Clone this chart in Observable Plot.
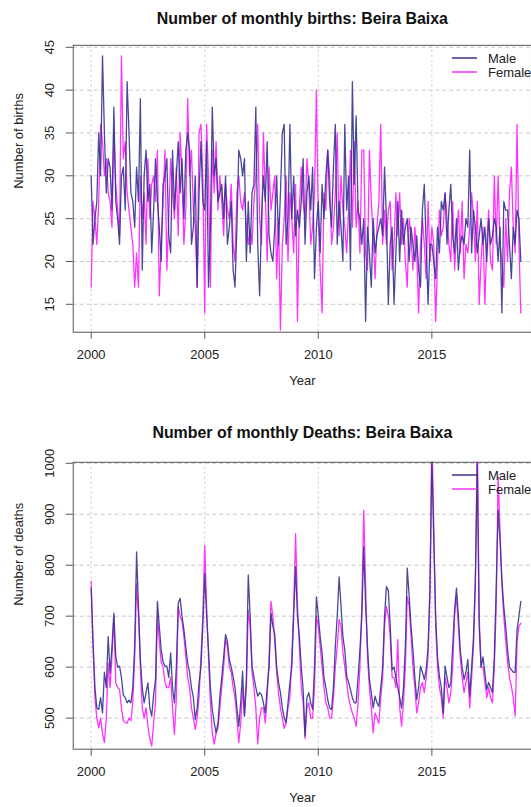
<!DOCTYPE html>
<html><head><meta charset="utf-8">
<script src="https://cdn.jsdelivr.net/npm/d3@7"></script>
<script src="https://cdn.jsdelivr.net/npm/@observablehq/plot@0.6"></script>
<style>
html,body{margin:0;padding:0;background:#fff;overflow:hidden;width:531px;height:807px;}
#wrap{position:relative;width:531px;height:807px;overflow:hidden;font-family:"Liberation Sans",Arial,sans-serif;}
#wrap svg.plot{position:absolute;left:0;}
.legend{position:absolute;left:452px;}
</style></head><body><div id="wrap"></div>
<script>
const startYear = 2000;
const yearTicks = [2000, 2005, 2010, 2015];
const birthTicks = [15, 20, 25, 30, 35, 40, 45];
const deathTicks = [500, 600, 700, 800, 900, 1000];
const seriesNames = ["Male", "Female"];
const seriesColors = ["#34348e", "#ff33ff"];

const birthsMale = [
30,22,25,27,35,30,44,35,28,32,31,26,
38,27,25,22,30,31,26,41,35,28,27,24,
31,27,39,19,30,33,27,29,21,26,32,27,
24,20,29,30,32,23,21,33,26,30,34,28,
32,25,33,35,33,22,24,30,17,28,34,27,
26,34,17,24,38,30,32,27,28,29,25,30,
22,24,27,19,17,24,33,32,30,32,20,27,
21,28,29,38,22,16,25,30,27,34,23,21,
20,24,30,22,28,35,36,22,25,36,25,30,
23,26,24,27,32,22,28,30,26,31,18,24,
27,21,29,25,30,33,27,24,31,36,22,27,
24,20,36,26,30,19,41,29,37,26,25,22,
25,13,24,21,17,25,21,23,24,25,23,31,
25,15,22,24,15,21,27,20,26,22,24,25,
20,24,22,20,23,19,17,26,29,22,15,22,
22,20,18,24,21,27,26,28,22,26,29,23,
21,25,19,22,23,22,25,24,33,21,26,24,
21,23,25,22,24,20,25,22,23,25,24,20,
24,14,27,26,26,22,18,24,22,26,25,20];

const birthsFemale = [
17,27,25,22,27,36,34,30,32,28,27,24,
35,29,26,23,44,32,34,28,26,24,22,17,
21,17,30,25,28,22,32,25,29,30,27,33,
16,22,27,33,19,25,32,28,25,31,23,35,
30,22,26,39,30,33,26,24,17,35,36,30,
14,36,30,17,33,28,34,26,30,27,23,29,
26,25,29,22,20,28,30,27,26,28,24,22,
24,22,27,30,36,25,22,35,28,20,31,26,
28,30,18,25,12,22,25,30,20,28,25,21,
29,13,26,31,27,25,32,29,22,24,28,40,
25,19,14,28,26,33,30,22,24,28,35,23,
30,26,24,21,26,33,24,34,24,27,21,33,
33,21,19,33,27,23,18,24,27,36,22,26,
22,26,27,19,22,28,23,28,22,25,20,17,
25,23,19,24,21,14,22,25,22,18,27,20,
24,22,13,20,26,23,24,28,25,22,20,27,
19,23,26,21,27,18,22,21,24,28,25,20,
27,15,20,24,15,22,26,20,19,30,22,30,
22,20,17,25,20,28,31,24,21,36,22,14];

const deathsMale = [
755,650,560,520,517,540,510,590,560,660,589,640,
706,621,600,602,580,545,540,530,535,530,560,640,
826,720,615,560,530,550,569,520,504,545,576,729,
680,634,610,602,602,580,628,560,530,600,725,735,
700,673,640,608,590,560,540,497,520,569,600,680,
784,700,634,560,517,491,471,490,543,580,620,664,
650,615,600,582,560,520,484,530,592,504,576,781,
700,602,580,560,543,550,546,530,510,560,600,706,
680,664,600,570,550,520,500,491,530,569,600,700,
797,700,660,600,556,465,540,550,530,517,600,738,
700,660,628,580,560,536,520,517,560,641,700,777,
720,660,634,582,570,556,540,530,530,580,634,700,
836,720,640,576,550,520,543,530,523,560,600,700,
758,751,680,595,600,580,560,540,520,560,640,794,
740,680,634,580,536,560,602,590,576,595,640,760,
1010,850,700,620,582,560,510,602,580,560,569,640,
712,755,700,634,600,576,590,615,543,600,660,780,
1000,680,600,620,589,556,570,560,550,620,760,908,
850,771,719,680,634,600,595,590,590,673,700,729];

const deathsFemale = [
768,640,540,500,481,500,470,452,500,608,560,620,
700,569,560,556,520,495,491,490,500,495,530,620,
764,700,600,520,500,520,484,460,445,490,530,700,
650,610,600,570,560,560,580,520,468,540,719,700,
690,660,620,580,560,520,500,478,500,540,620,700,
839,720,620,530,471,449,470,480,520,560,600,654,
640,600,590,560,540,500,452,490,560,504,560,712,
680,590,560,520,449,500,520,520,490,540,620,729,
700,650,590,550,520,500,480,491,520,540,620,720,
862,720,640,560,530,460,520,530,500,500,560,700,
680,640,600,560,530,520,500,500,540,600,640,693,
680,630,600,570,540,523,510,500,484,530,600,720,
908,760,620,560,520,471,510,500,490,540,580,680,
719,700,660,580,580,560,654,520,484,530,600,738,
720,660,600,560,510,530,560,570,550,580,620,740,
1060,880,680,600,560,540,500,580,560,530,550,600,
700,740,680,620,580,550,570,590,520,580,640,760,
1050,700,600,600,570,540,560,540,530,600,720,973,
870,760,700,650,610,580,562,540,504,650,680,686];

const FONT = "'Liberation Sans', Arial, Helvetica, sans-serif";

function panel(o) {
  const t = (d, i) => startYear + i / 12;
  const svg = Plot.plot({
    width: 533, height: o.height,
    marginLeft: 73, marginRight: 0, marginTop: o.marginTop, marginBottom: o.marginBottom,
    style: {fontFamily: FONT, fontSize: "13px", color: "#222", background: "transparent", overflow: "visible"},
    x: {domain: [1999.211, 2019.386]},
    y: {domain: o.yDomain},
    marks: [
      Plot.gridX(yearTicks, {stroke: "#c4c8d0", strokeOpacity: 1, strokeDasharray: "2,3"}),
      Plot.gridY(o.yTicks, {stroke: "#c8c8c8", strokeOpacity: 1, strokeDasharray: "4,3"}),
      Plot.lineY(o.female, {x: t, y: d => d, stroke: seriesColors[1], strokeWidth: 1.3, clip: true}),
      Plot.lineY(o.male, {x: t, y: d => d, stroke: seriesColors[0], strokeWidth: 1.3, strokeOpacity: 0.9, clip: true}),
      Plot.frame({stroke: "#555"}),
      Plot.axisX(yearTicks, {tickSize: 7, tickPadding: 11, stroke: "#555", tickFormat: d => String(d), label: null}),
      Plot.axisY(o.yTicks, {tickSize: 7, tickRotate: -90, tickPadding: 12, stroke: "#555", tickFormat: d => String(d), label: null}),
      Plot.text([o.title], {frameAnchor: "top", lineAnchor: "middle", dy: o.titleDy, fontWeight: "bold", fontSize: 16, fill: "#111"}),
      Plot.text(["Year"], {frameAnchor: "bottom", lineAnchor: "middle", dy: 49, fontSize: 13, fill: "#222"}),
      Plot.text([o.ylabel], {frameAnchor: "left", dx: -55, rotate: -90, fontSize: 13, fill: "#222"})
    ]
  });
  svg.classList.add("plot");
  svg.style.top = o.top + "px";
  return svg;
}

function legend(top) {
  const ns = "http://www.w3.org/2000/svg";
  const s = document.createElementNS(ns, "svg");
  s.setAttribute("width", 90); s.setAttribute("height", 32);
  s.setAttribute("class", "legend");
  s.style.top = top + "px";
  seriesNames.forEach((name, i) => {
    const y = 7 + i * 14;
    const l = document.createElementNS(ns, "line");
    l.setAttribute("x1", 0); l.setAttribute("x2", 25); l.setAttribute("y1", y); l.setAttribute("y2", y);
    l.setAttribute("stroke", seriesColors[i]); l.setAttribute("stroke-width", 1.5);
    s.appendChild(l);
    const tx = document.createElementNS(ns, "text");
    tx.setAttribute("x", 36); tx.setAttribute("y", y); tx.setAttribute("dy", "0.35em");
    tx.setAttribute("font-family", FONT); tx.setAttribute("font-size", 13); tx.setAttribute("fill", "#222");
    tx.textContent = name;
    s.appendChild(tx);
  });
  return s;
}

const wrap = document.getElementById("wrap");
wrap.appendChild(panel({
  top: 0, height: 400, marginTop: 45, marginBottom: 67,
  yDomain: [11.74, 45.23], yTicks: birthTicks, male: birthsMale, female: birthsFemale,
  title: "Number of monthly births: Beira Baixa", titleDy: -27, ylabel: "Number of births"
}));
wrap.appendChild(panel({
  top: 400, height: 407, marginTop: 62, marginBottom: 57,
  yDomain: [439, 1002], yTicks: deathTicks, male: deathsMale, female: deathsFemale,
  title: "Number of monthly Deaths: Beira Baixa", titleDy: -29, ylabel: "Number of deaths"
}));
wrap.appendChild(legend(51));
wrap.appendChild(legend(468));
</script>
</body></html>
